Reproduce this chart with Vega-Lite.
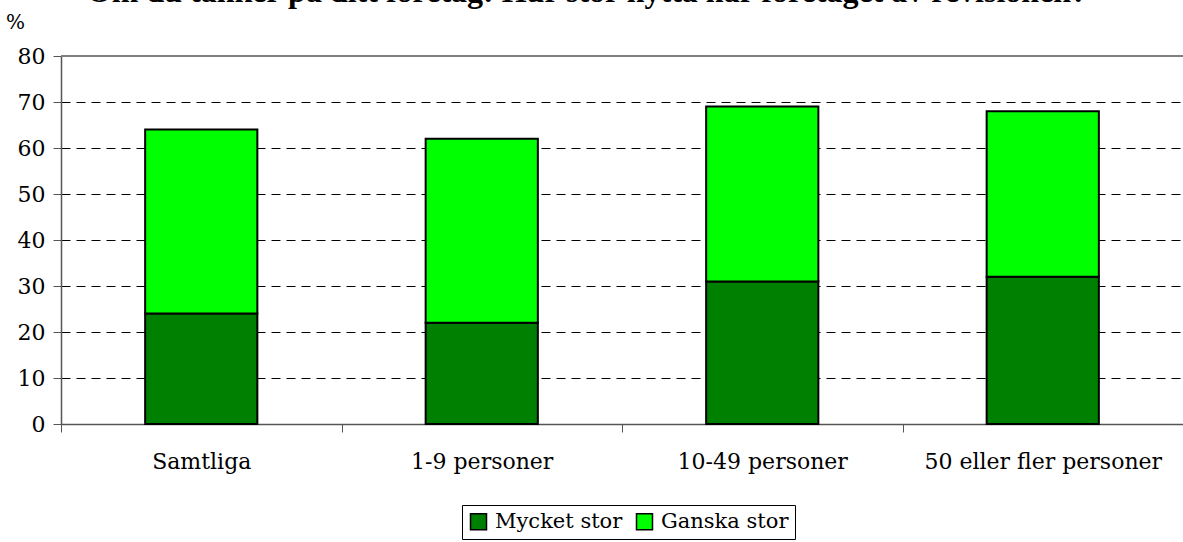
{
  "$schema": "https://vega.github.io/schema/vega-lite/v6.json",
  "width": 1122,
  "height": 368,
  "autosize": {"type": "none"},
  "padding": {"left": 61, "top": 56, "right": 0, "bottom": 118},
  "background": "white",
  "config": {
    "view": {"stroke": null}
  },
  "title": {
    "text": "Om du tänker på ditt företag: Hur stor nytta har företaget av revisionen?",
    "font": "Liberation Serif",
    "fontSize": 32,
    "fontWeight": "bold",
    "color": "#000",
    "anchor": "middle",
    "frame": "group",
    "offset": 2,
    "dx": -35,
    "dy": -1
  },
  "data": {
    "values": [
      {"grupp": "Samtliga", "svar": "Mycket stor", "ord": 1, "v": 24},
      {"grupp": "Samtliga", "svar": "Ganska stor", "ord": 2, "v": 40},
      {"grupp": "1-9 personer", "svar": "Mycket stor", "ord": 1, "v": 22},
      {"grupp": "1-9 personer", "svar": "Ganska stor", "ord": 2, "v": 40},
      {"grupp": "10-49 personer", "svar": "Mycket stor", "ord": 1, "v": 31},
      {"grupp": "10-49 personer", "svar": "Ganska stor", "ord": 2, "v": 38},
      {"grupp": "50 eller fler personer", "svar": "Mycket stor", "ord": 1, "v": 32},
      {"grupp": "50 eller fler personer", "svar": "Ganska stor", "ord": 2, "v": 36}
    ]
  },
  "layer": [
    {
      "mark": {"type": "bar", "stroke": "#000", "strokeWidth": 2, "width": {"band": 0.4}},
      "encoding": {
        "x": {
          "field": "grupp", "type": "nominal",
          "sort": ["Samtliga", "1-9 personer", "10-49 personer", "50 eller fler personer"],
          "scale": {"paddingInner": 0, "paddingOuter": 0},
          "axis": {
            "title": null, "labelAngle": 0, "labelFontSize": 22, "labelFont": "DejaVu Serif", "labelColor": "#000", "labelPadding": 19,
            "tickBand": "extent", "tickSize": 8, "tickColor": "#555",
            "domainColor": "#555", "domainWidth": 1.5, "labelLimit": 400
          }
        },
        "y": {
          "aggregate": "sum", "field": "v", "type": "quantitative", "stack": "zero",
          "scale": {"domain": [0, 80], "nice": false},
          "axis": {
            "title": "%", "titleAngle": 0, "titleFontSize": 20, "titleFontWeight": "normal", "titleFont": "DejaVu Serif", "titleColor": "#000",
            "titleX": -46, "titleY": -34, "titleAlign": "center", "titleBaseline": "middle",
            "values": [0, 10, 20, 30, 40, 50, 60, 70, 80],
            "labelFontSize": 22, "labelFont": "DejaVu Serif", "labelColor": "#000", "labelPadding": 8, "tickSize": 8, "tickColor": "#555",
            "domainColor": "#555", "domainWidth": 1.5,
            "grid": true, "gridColor": "#000", "gridDash": [9, 6], "gridWidth": 1
          }
        },
        "order": {"field": "ord", "type": "quantitative"},
        "color": {
          "field": "svar", "type": "nominal",
          "scale": {"domain": ["Mycket stor", "Ganska stor"], "range": ["#008000", "#00FF00"]},
          "legend": {
            "title": null, "orient": "none", "direction": "horizontal",
            "legendX": 401, "legendY": 449,
            "symbolType": "square", "symbolSize": 256, "symbolStrokeColor": "#000", "symbolStrokeWidth": 1.5,
            "labelFontSize": 21, "labelFont": "DejaVu Serif", "labelColor": "#000",
            "columnPadding": 10, "labelOffset": 6, "labelLimit": 300,
            "strokeColor": "#000", "fillColor": "#fff", "padding": 6
          }
        }
      }
    },
    {
      "mark": {"type": "rule", "color": "#808080", "strokeWidth": 2},
      "encoding": {"y": {"datum": 80, "type": "quantitative"}}
    }
  ]
}
